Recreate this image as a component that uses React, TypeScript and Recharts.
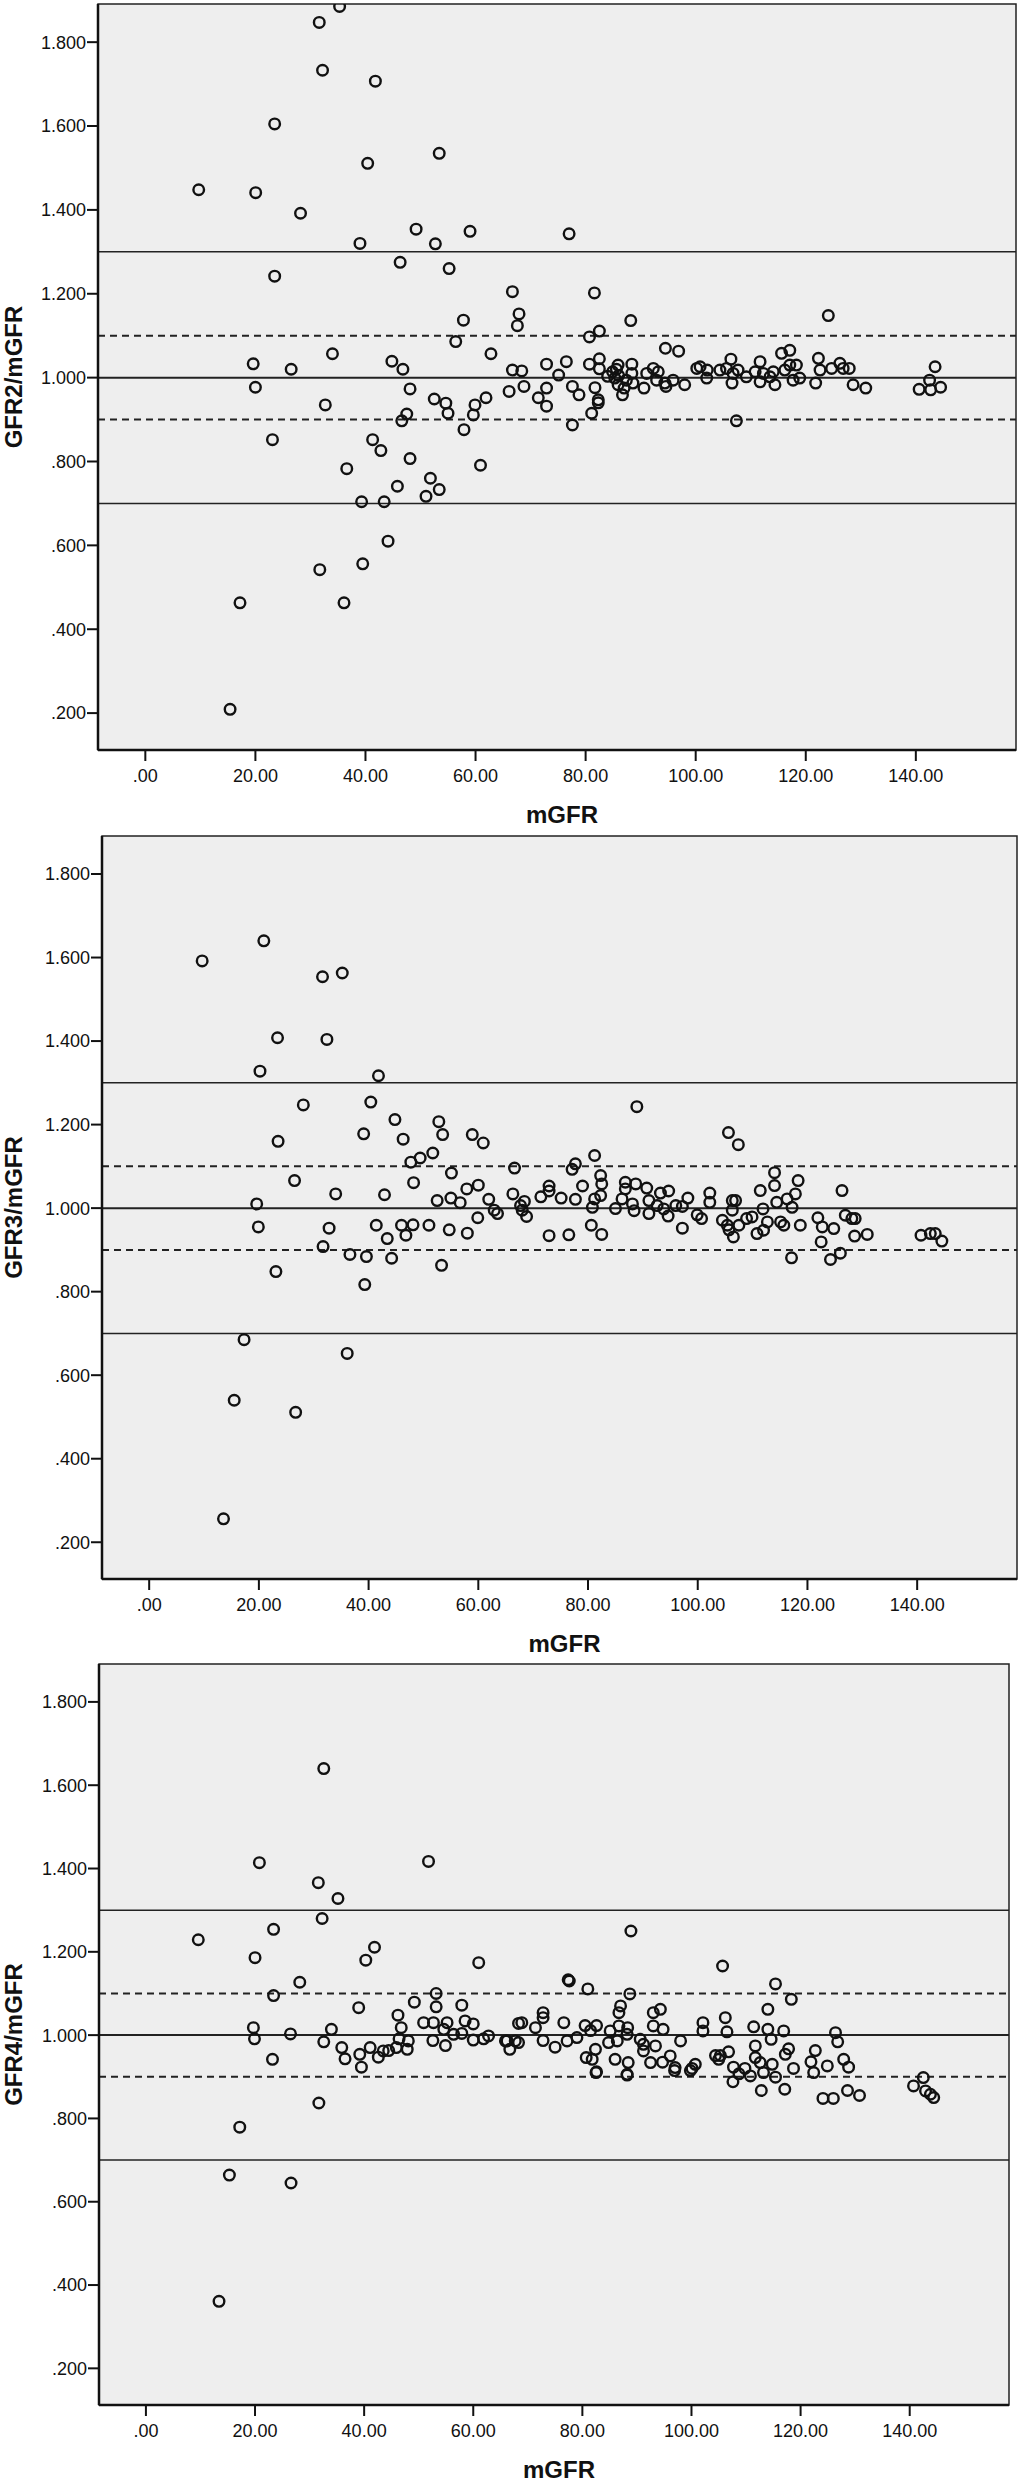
import React from "react";
import { ScatterChart, Scatter, XAxis, YAxis, ReferenceLine, ReferenceArea, CartesianGrid } from "recharts";

const xTicks = [0, 20, 40, 60, 80, 100, 120, 140];
const yTicks = [0.2, 0.4, 0.6, 0.8, 1.0, 1.2, 1.4, 1.6, 1.8];
const xDomain = [-8.6, 158.2];
const yDomain = [0.112, 1.891];
const solidLimits = [1.3, 0.7];
const dashedLimits = [1.1, 0.9];
const identityLine = 1.0;

// [mGFR, ratio]
const gfr2Points: [number, number][] = [
  [35.3, 1.885], [31.6, 1.847], [32.2, 1.733], [41.8, 1.707], [23.5, 1.605], [40.4, 1.511], [53.4, 1.535],
  [9.7, 1.448], [20.05, 1.441], [28.2, 1.392], [49.2, 1.354], [59.0, 1.349], [39.0, 1.32], [52.7, 1.319],
  [46.3, 1.275], [55.2, 1.26], [23.5, 1.242], [66.7, 1.205], [57.8, 1.137], [56.4, 1.086], [62.8, 1.057],
  [34.0, 1.057], [19.6, 1.033], [26.5, 1.02], [44.8, 1.039], [46.8, 1.02], [20.0, 0.977], [48.1, 0.973],
  [32.7, 0.935], [52.5, 0.949], [54.6, 0.939], [55.0, 0.915], [59.9, 0.935], [61.9, 0.952], [59.6, 0.911],
  [66.1, 0.967], [47.5, 0.913], [46.6, 0.897], [57.9, 0.876], [23.1, 0.852], [41.3, 0.852], [42.8, 0.826],
  [48.1, 0.807], [36.6, 0.783], [60.9, 0.791], [51.8, 0.76], [53.4, 0.733], [45.8, 0.741], [51.0, 0.717],
  [39.3, 0.704], [43.4, 0.704], [44.1, 0.61], [39.5, 0.556], [31.7, 0.542], [17.2, 0.463], [36.1, 0.463],
  [15.4, 0.209],
  [77.0, 1.343], [81.6, 1.202], [67.9, 1.152], [67.6, 1.124], [88.2, 1.136], [124.1, 1.148], [82.5, 1.111],
  [80.7, 1.097], [94.5, 1.07], [96.9, 1.063], [68.4, 1.016], [72.9, 1.032], [76.5, 1.038], [75.1, 1.006],
  [68.8, 0.979], [72.9, 0.975], [71.4, 0.952], [72.9, 0.932], [77.6, 0.979], [78.8, 0.959], [80.7, 1.032],
  [82.5, 1.045], [82.5, 1.021], [81.7, 0.976], [82.3, 0.947], [81.1, 0.915], [84.9, 1.014], [85.9, 1.03],
  [85.3, 0.999], [85.9, 0.983], [86.7, 0.959], [88.4, 1.032], [88.4, 1.01], [87.4, 0.994], [88.6, 0.987],
  [90.6, 0.975], [91.1, 1.01], [92.3, 1.022], [93.2, 1.014], [92.9, 0.994], [94.4, 0.987], [95.9, 0.994],
  [94.6, 0.979], [98.0, 0.983], [100.2, 1.022], [100.8, 1.026], [102.1, 1.018], [102.0, 0.999], [104.4, 1.018],
  [105.6, 1.022], [106.4, 1.044], [106.8, 1.01], [106.6, 0.987], [107.7, 1.018], [109.2, 1.002], [110.8, 1.014],
  [111.7, 1.038], [111.7, 0.99], [112.3, 1.01], [113.5, 1.002], [114.4, 0.983], [114.1, 1.014], [115.6, 1.058],
  [117.1, 1.065], [116.2, 1.018], [117.1, 1.03], [118.3, 1.03], [117.7, 0.994], [118.9, 0.999], [122.3, 1.046],
  [122.6, 1.018], [121.8, 0.987], [124.7, 1.022], [126.2, 1.034], [126.8, 1.022], [127.9, 1.022], [128.6, 0.983],
  [130.9, 0.975], [140.6, 0.972], [142.5, 0.994], [143.5, 1.026], [142.7, 0.971], [144.5, 0.977], [107.4, 0.897],
  [77.6, 0.887], [82.3, 0.94], [66.7, 1.018], [86.0, 1.005], [87.0, 0.975], [85.6, 1.02], [84.0, 1.003],
];

const gfr3Points: [number, number][] = [
  [9.66, 1.592], [20.9, 1.64], [31.6, 1.554], [35.2, 1.563], [23.4, 1.408], [32.4, 1.404], [20.2, 1.328],
  [41.8, 1.317], [28.1, 1.247], [40.4, 1.254], [44.8, 1.212], [52.8, 1.207], [39.1, 1.178], [53.5, 1.176],
  [58.9, 1.176], [60.9, 1.156], [46.3, 1.165], [23.5, 1.16], [51.7, 1.132], [49.4, 1.12], [47.7, 1.11],
  [66.6, 1.096], [55.1, 1.084], [26.5, 1.066], [48.2, 1.061], [60.0, 1.055], [57.9, 1.046], [66.3, 1.034],
  [34.0, 1.034], [42.9, 1.032], [52.5, 1.018], [55.0, 1.024], [56.7, 1.013], [61.9, 1.021], [62.9, 0.995],
  [19.6, 1.01], [19.9, 0.955], [32.8, 0.952], [41.4, 0.959], [46.0, 0.959], [48.1, 0.96], [46.8, 0.935],
  [43.4, 0.927], [51.0, 0.959], [54.7, 0.948], [58.0, 0.94], [59.9, 0.977], [31.7, 0.908], [36.6, 0.889],
  [39.6, 0.884], [44.2, 0.88], [53.3, 0.863], [23.1, 0.848], [39.3, 0.817], [17.3, 0.685], [36.1, 0.652],
  [15.5, 0.54], [26.7, 0.511], [13.55, 0.256],
  [88.9, 1.243], [105.6, 1.181], [107.4, 1.152], [81.2, 1.126], [77.7, 1.106], [77.1, 1.093], [114.0, 1.085],
  [118.3, 1.066], [126.3, 1.042], [82.3, 1.078], [82.5, 1.058], [79.0, 1.053], [72.9, 1.053], [72.9, 1.041],
  [71.4, 1.027], [75.1, 1.024], [77.7, 1.021], [68.4, 1.016], [67.7, 1.006], [68.0, 0.995], [68.8, 0.98],
  [81.2, 1.022], [82.3, 1.03], [80.8, 1.002], [85.0, 0.999], [86.2, 1.022], [86.8, 1.062], [86.8, 1.046],
  [88.7, 1.058], [88.1, 1.01], [88.4, 0.994], [90.7, 1.048], [91.1, 1.018], [91.1, 0.987], [92.6, 1.006],
  [93.2, 1.036], [94.7, 1.041], [93.8, 0.998], [94.6, 0.981], [96.0, 1.006], [97.2, 1.004], [98.2, 1.024],
  [97.2, 0.952], [99.9, 0.984], [100.7, 0.975], [102.2, 1.036], [102.2, 1.014], [104.5, 0.971], [105.4, 0.959],
  [105.7, 0.948], [106.5, 0.931], [106.3, 1.018], [106.9, 1.018], [106.3, 0.995], [107.5, 0.959], [108.9, 0.975],
  [109.9, 0.979], [110.8, 0.939], [111.4, 1.042], [111.9, 0.998], [112.0, 0.947], [112.7, 0.967], [114.0, 1.054],
  [114.4, 1.014], [115.1, 0.967], [115.7, 0.959], [116.3, 1.022], [117.2, 1.002], [117.8, 1.034], [118.7, 0.959],
  [117.1, 0.881], [121.9, 0.977], [122.7, 0.955], [124.8, 0.951], [122.5, 0.919], [124.2, 0.877], [126.0, 0.892],
  [126.9, 0.983], [128.1, 0.975], [128.7, 0.975], [128.6, 0.933], [130.9, 0.937], [140.7, 0.935], [142.4, 0.939],
  [143.3, 0.939], [144.5, 0.921], [72.9, 0.934], [76.5, 0.936], [80.6, 0.959], [82.5, 0.937], [63.5, 0.987],
];

const gfr4Points: [number, number][] = [
  [32.6, 1.64], [20.8, 1.414], [51.8, 1.417], [31.6, 1.366], [35.2, 1.328], [32.3, 1.28], [23.4, 1.254],
  [9.6, 1.229], [41.9, 1.211], [20.0, 1.186], [40.3, 1.18], [61.0, 1.174], [28.2, 1.127], [23.4, 1.095],
  [53.2, 1.1], [49.2, 1.079], [39.0, 1.066], [53.2, 1.068], [57.9, 1.072], [46.2, 1.048], [50.9, 1.03],
  [52.7, 1.03], [55.2, 1.03], [58.5, 1.034], [60.0, 1.027], [46.8, 1.018], [19.7, 1.018], [19.9, 0.991],
  [26.5, 1.003], [34.0, 1.014], [32.6, 0.984], [54.6, 1.014], [56.4, 1.002], [57.9, 1.004], [52.6, 0.987],
  [60.0, 0.988], [61.9, 0.991], [62.8, 0.998], [66.2, 0.986], [66.7, 0.966], [68.3, 1.028], [67.7, 0.986],
  [48.1, 0.986], [47.9, 0.966], [46.4, 0.991], [54.9, 0.975], [35.9, 0.97], [36.5, 0.943], [41.1, 0.97],
  [39.2, 0.954], [39.5, 0.923], [42.6, 0.947], [43.5, 0.962], [44.5, 0.963], [45.9, 0.97], [23.2, 0.942],
  [31.7, 0.837], [17.2, 0.779], [15.3, 0.664], [26.6, 0.645], [13.4, 0.361],
  [88.9, 1.25], [105.7, 1.166], [77.6, 1.13], [77.4, 1.133], [81.0, 1.111], [115.4, 1.123], [88.7, 1.099],
  [118.3, 1.086], [87.0, 1.07], [86.7, 1.054], [94.3, 1.062], [93.0, 1.054], [114.0, 1.062], [106.2, 1.042],
  [72.8, 1.054], [72.8, 1.042], [68.9, 1.03], [71.4, 1.018], [76.6, 1.03], [80.5, 1.023], [82.6, 1.023],
  [81.5, 1.011], [85.1, 1.01], [86.7, 1.022], [88.3, 1.018], [86.4, 0.986], [84.8, 0.982], [88.2, 1.002],
  [93.0, 1.022], [94.8, 1.014], [102.1, 1.03], [102.1, 1.01], [106.5, 1.008], [111.4, 1.02], [114.0, 1.014],
  [114.6, 0.99], [116.9, 1.01], [126.4, 1.006], [126.8, 0.984], [72.8, 0.987], [75.0, 0.971], [77.2, 0.986],
  [79.0, 0.994], [68.3, 0.982], [90.6, 0.99], [91.2, 0.978], [93.4, 0.974], [98.0, 0.986], [82.4, 0.966],
  [80.7, 0.946], [81.8, 0.942], [82.6, 0.912], [86.0, 0.942], [88.4, 0.934], [88.2, 0.906], [91.2, 0.962],
  [92.5, 0.934], [94.7, 0.935], [96.1, 0.95], [97.0, 0.922], [100.1, 0.92], [100.7, 0.93], [104.4, 0.951],
  [105.3, 0.951], [106.8, 0.96], [105.0, 0.942], [107.7, 0.923], [109.8, 0.92], [111.7, 0.974], [111.7, 0.946],
  [112.6, 0.934], [114.8, 0.93], [117.2, 0.954], [117.8, 0.967], [118.7, 0.92], [121.9, 0.936], [122.7, 0.963],
  [124.9, 0.926], [127.9, 0.942], [128.8, 0.923], [122.4, 0.91], [82.5, 0.91], [88.2, 0.904], [96.9, 0.915],
  [99.8, 0.915], [107.6, 0.888], [108.7, 0.907], [110.8, 0.902], [112.8, 0.867], [113.2, 0.91], [115.4, 0.899],
  [117.1, 0.87], [124.1, 0.848], [126.0, 0.848], [128.6, 0.867], [130.8, 0.855], [142.5, 0.898], [140.7, 0.878],
  [142.9, 0.866], [144.4, 0.85], [143.8, 0.858], [65.9, 0.986],
];

const FONT = "'Liberation Sans', Arial, Helvetica, sans-serif";
const INK = "#111";

const fmtY = (v: number) => v.toFixed(3).replace(/^0/, "");
const fmtX = (v: number) => v.toFixed(2).replace(/^0/, "");

const OpenCircle = (props: any) => {
  if (props.cx == null || props.cy == null) return null;
  return <circle cx={props.cx} cy={props.cy} r={5.3} fill="none" stroke={INK} strokeWidth={2.4} />;
};

type PanelProps = {
  yTitle: string;
  points: [number, number][];
  top: number;
  left: number;
  right: number;
  bottom: number;
};

function Panel({ yTitle, points, top, left, right, bottom }: PanelProps) {
  const data = points.map(([x, y]) => ({ x, y }));
  const height = bottom - top + 4 + 80;
  return (
    <div style={{ position: "absolute", left: 0, top: top - 4, width: 1036, height }}>
      <ScatterChart width={1036} height={height} margin={{ top: 4, right: 1036 - right, bottom: 0, left: 0 }}>
        <CartesianGrid fill="#eeeeee" horizontal={false} vertical={false} />
        <XAxis
          dataKey="x"
          type="number"
          domain={xDomain}
          allowDataOverflow
          ticks={xTicks}
          tickFormatter={fmtX}
          height={80}
          tickSize={11}
          tickMargin={8}
          axisLine={{ stroke: INK, strokeWidth: 2.5 }}
          tickLine={{ stroke: INK, strokeWidth: 2 }}
          tick={{ fill: INK, fontSize: 18, fontFamily: FONT }}
          label={{ value: "mGFR", position: "insideBottom", offset: 7, dx: 5, fontSize: 24, fontWeight: 700, fill: INK, fontFamily: FONT }}
        />
        <YAxis
          dataKey="y"
          type="number"
          domain={yDomain}
          allowDataOverflow
          ticks={yTicks}
          tickFormatter={fmtY}
          width={left}
          tickSize={11}
          tickMargin={1}
          axisLine={{ stroke: INK, strokeWidth: 2.5 }}
          tickLine={{ stroke: INK, strokeWidth: 2 }}
          tick={{ fill: INK, fontSize: 18, fontFamily: FONT }}
          label={{ value: yTitle, angle: -90, position: "insideLeft", offset: 13, style: { textAnchor: "middle" }, fontSize: 24, fontWeight: 700, fill: INK, fontFamily: FONT }}
        />
        <ReferenceArea x1={xDomain[0]} x2={xDomain[1]} y1={yDomain[0]} y2={yDomain[1]} fill="none" stroke="#222" strokeWidth={1.5} />
        {solidLimits.map((v) => (
          <ReferenceLine key={`s${v}`} y={v} stroke="#222" strokeWidth={1.5} />
        ))}
        {dashedLimits.map((v) => (
          <ReferenceLine key={`d${v}`} y={v} stroke="#222" strokeWidth={2} strokeDasharray="7 5" />
        ))}
        <ReferenceLine y={identityLine} stroke="#222" strokeWidth={2} />
        <Scatter data={data} shape={OpenCircle} isAnimationActive={false} />
      </ScatterChart>
    </div>
  );
}

export default function App() {
  return (
    <div style={{ position: "absolute", left: 0, top: 0, width: 1036, height: 2481, background: "#fff" }}>
      <Panel yTitle="GFR2/mGFR" points={gfr2Points} top={4} left={98} right={1016} bottom={750} />
      <Panel yTitle="GFR3/mGFR" points={gfr3Points} top={836} left={102} right={1017} bottom={1579} />
      <Panel yTitle="GFR4/mGFR" points={gfr4Points} top={1664} left={99} right={1009} bottom={2405} />
    </div>
  );
}
